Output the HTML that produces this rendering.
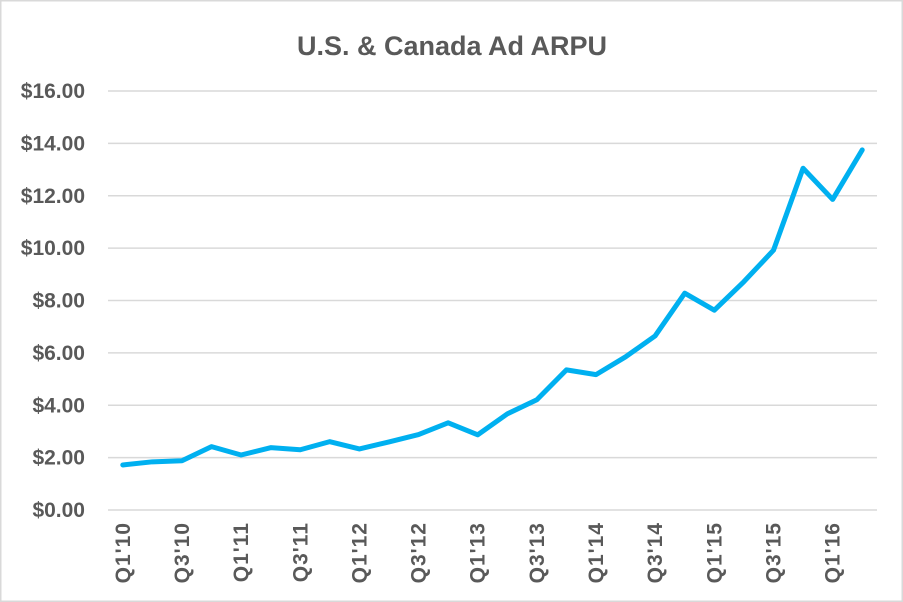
<!DOCTYPE html>
<html><head><meta charset="utf-8"><style>
html,body{margin:0;padding:0;background:#fff;}
svg{display:block;font-family:"Liberation Sans",sans-serif;}
</style></head><body>
<svg id="chart" width="903" height="602">
<rect x="0.75" y="0.75" width="901.5" height="600.5" fill="#fff" stroke="#d9d9d9" stroke-width="1.5"/>
<text x="452" y="55" text-anchor="middle" font-size="27" font-weight="bold" fill="#595959">U.S. &amp; Canada Ad ARPU</text>
<g id="grid"></g><g id="yl"></g><g id="xl"></g><g id="ln"></g>
</svg>
<script>
const categories=["Q1'10","Q2'10","Q3'10","Q4'10","Q1'11","Q2'11","Q3'11","Q4'11","Q1'12","Q2'12","Q3'12","Q4'12","Q1'13","Q2'13","Q3'13","Q4'13","Q1'14","Q2'14","Q3'14","Q4'14","Q1'15","Q2'15","Q3'15","Q4'15","Q1'16","Q2'16"];
const values=[1.72,1.84,1.88,2.42,2.10,2.38,2.30,2.61,2.33,2.60,2.88,3.33,2.87,3.67,4.21,5.35,5.17,5.85,6.65,8.28,7.63,8.72,9.92,13.05,11.86,13.75];
const yTicks=[0,2,4,6,8,10,12,14,16];
const NS="http://www.w3.org/2000/svg";
const X0=108,X1=877,Y0=510,Y1=91,yMax=16;
const band=(X1-X0)/categories.length;
const x=i=>X0+band*(i+0.5);
const y=v=>Y0-(v/yMax)*(Y0-Y1);
function mk(t,a,p){const e=document.createElementNS(NS,t);for(const k in a)e.setAttribute(k,a[k]);p.appendChild(e);return e;}
const grid=document.getElementById('grid'),yl=document.getElementById('yl'),xl=document.getElementById('xl'),ln=document.getElementById('ln');
yTicks.forEach(t=>{
 const g=mk('line',{x1:X0,x2:X1,y1:y(t),y2:y(t),stroke:'#d9d9d9','stroke-width':1.5},grid);
 
 
 const l=mk('text',{x:85,y:y(t)+7,'text-anchor':'end','font-size':21,'font-weight':'bold',fill:'#595959'},yl);
 l.textContent='$'+t.toFixed(2);
 
 
});
categories.forEach((c,i)=>{
 if(i%2)return;
 const px=x(i)+7;
 const l=mk('text',{x:px,y:522,transform:`rotate(-90 ${px} 522)`,'text-anchor':'end','font-size':21,'font-weight':'bold',fill:'#595959','letter-spacing':1},xl);
 l.textContent=c;
 
 
});
const p=mk('polyline',{points:values.map((v,i)=>x(i)+','+y(v)).join(' '),fill:'none',stroke:'#00b0f0','stroke-width':5,'stroke-linejoin':'round','stroke-linecap':'round'},ln);


</script>
</body></html>
